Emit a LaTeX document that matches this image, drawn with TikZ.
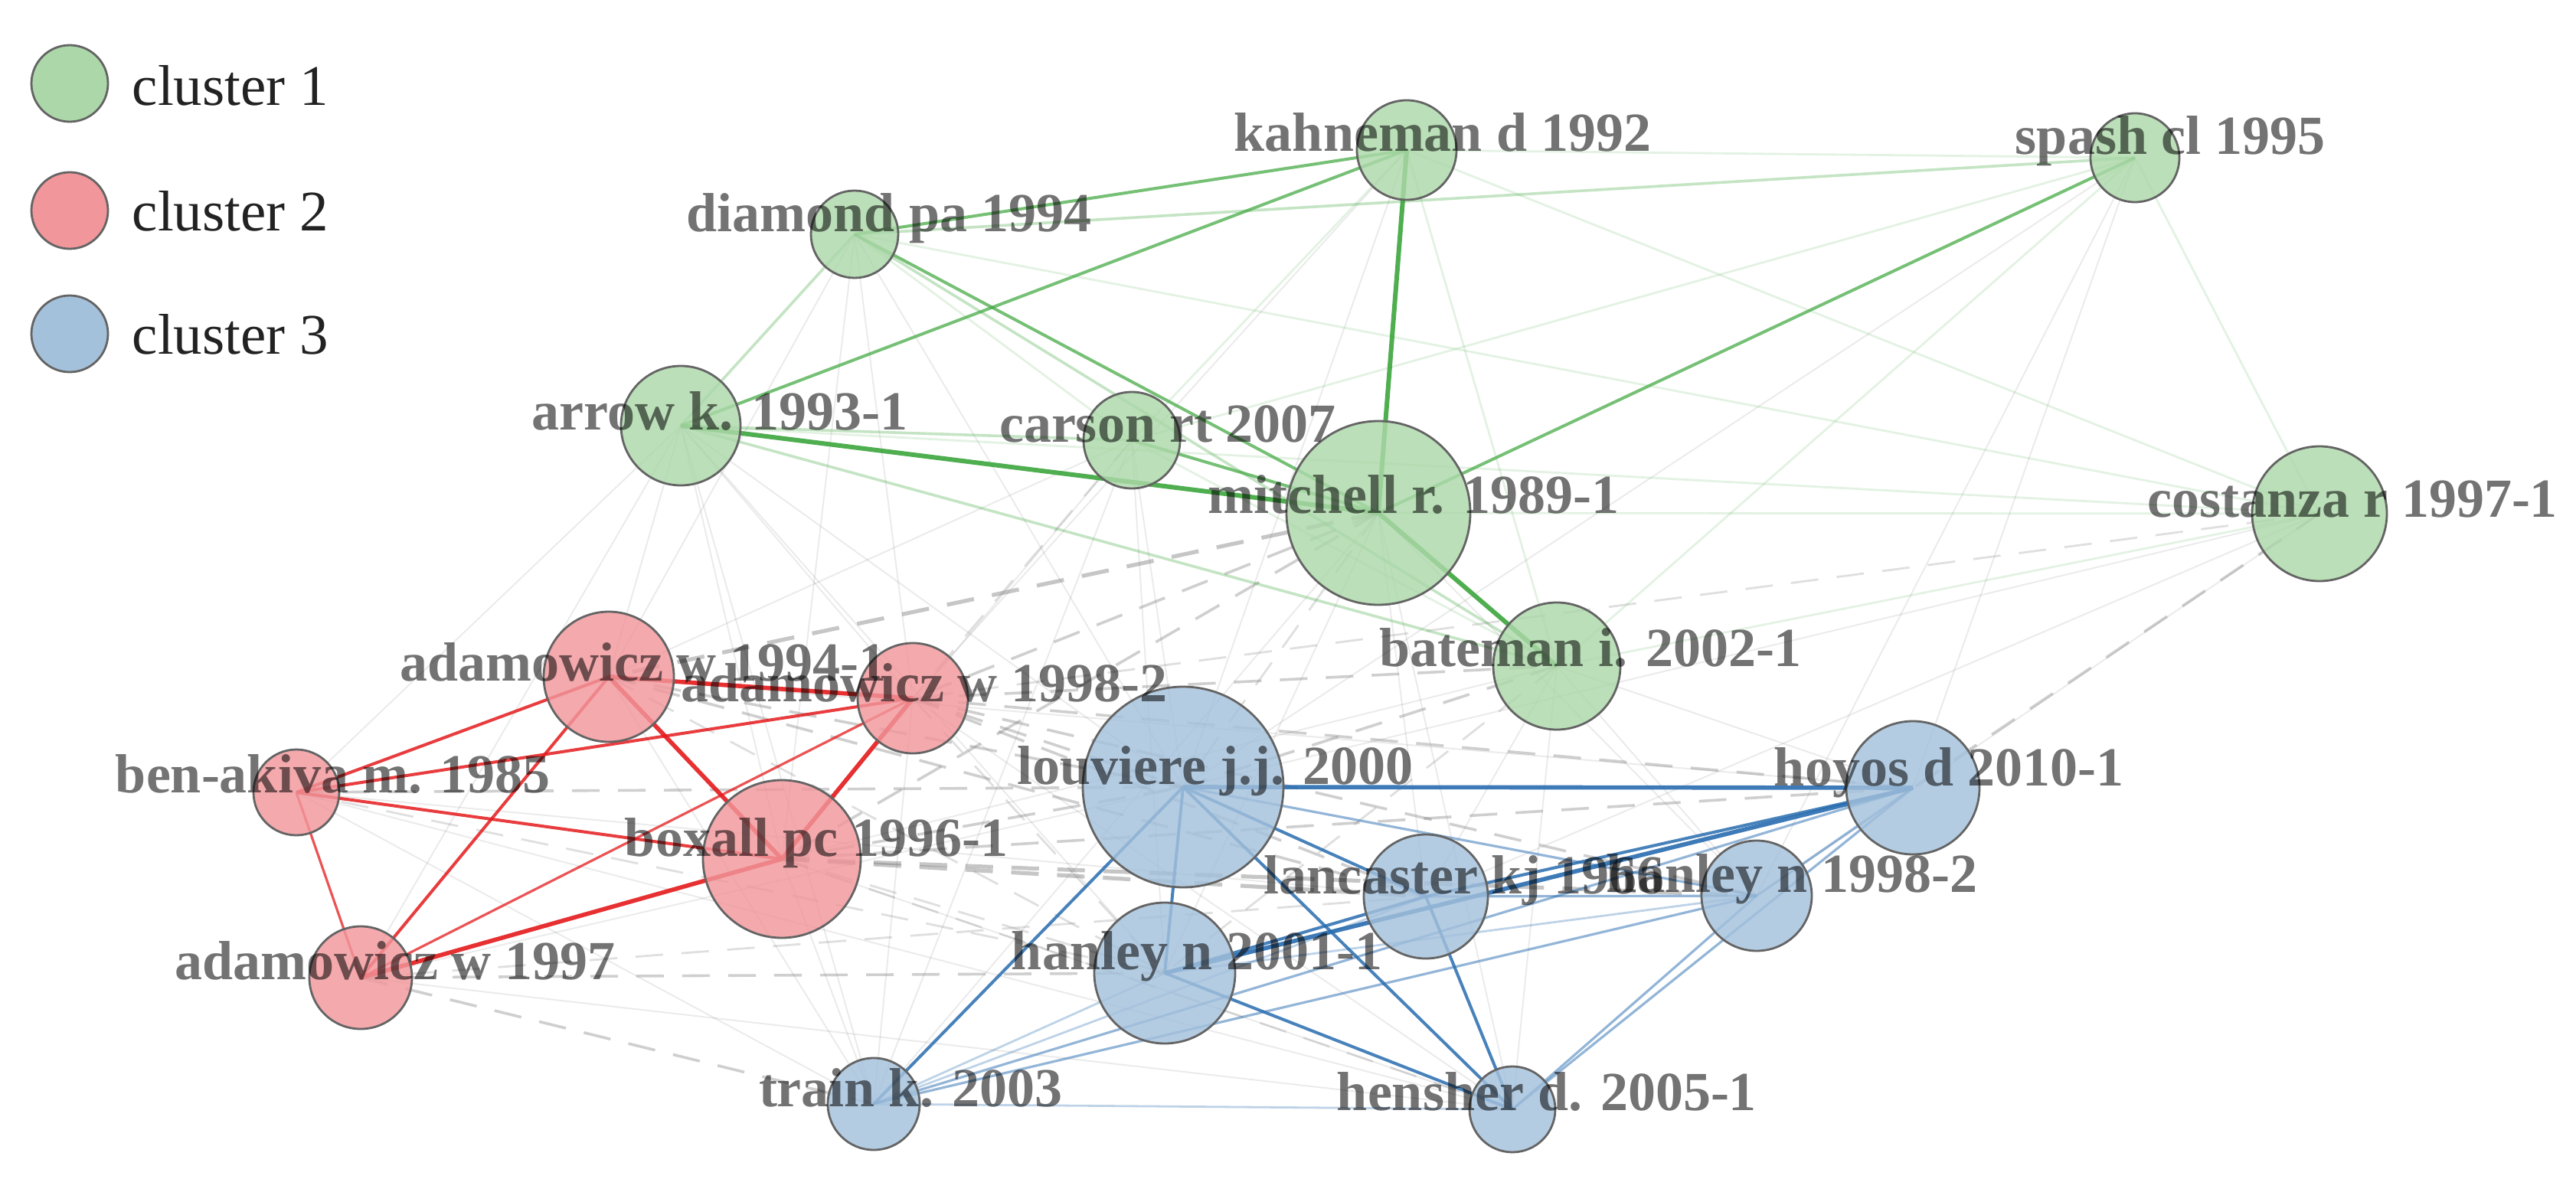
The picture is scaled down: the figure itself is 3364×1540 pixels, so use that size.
\documentclass[tikz,border=0pt]{standalone}
\usepackage{fontspec}
\setmainfont{Liberation Serif}
\pgfdeclarelayer{bg}
\pgfsetlayers{bg,main}
\definecolor{gfill}{RGB}{172,216,169}
\definecolor{rfill}{RGB}{241,150,155}
\definecolor{bfill}{RGB}{164,193,220}
\definecolor{gedge}{RGB}{60,165,60}
\definecolor{redge}{RGB}{228,26,28}
\definecolor{bedge}{RGB}{40,108,175}
\definecolor{nborder}{RGB}{100,100,100}
\definecolor{legtext}{RGB}{34,34,34}
\begin{document}
\begin{tikzpicture}[x=0.25pt,y=-0.25pt,
  nd/.style={circle, draw=nborder, line width=0.7pt, inner sep=0pt, fill opacity=0.82},
  c1/.style={nd, fill=gfill},
  c2/.style={nd, fill=rfill},
  c3/.style={nd, fill=bfill},
  lbl/.style={anchor=base, inner sep=0pt, font=\fontsize{18}{18}\selectfont\bfseries, text=black, text opacity=0.55},
  legtxt/.style={anchor=base west, inner sep=0pt, font=\fontsize{18.75}{19}\selectfont, text=legtext},
  gA/.style={draw=gedge, line width=1.5pt, opacity=0.9},
  gB/.style={draw=gedge, line width=1.0pt, opacity=0.7},
  gC/.style={draw=gedge, line width=0.9pt, opacity=0.3},
  gD/.style={draw=gedge, line width=0.7pt, opacity=0.14},
  rA/.style={draw=redge, line width=1.4pt, opacity=0.9},
  rB/.style={draw=redge, line width=1.0pt, opacity=0.85},
  rC/.style={draw=redge, line width=0.8pt, opacity=0.75},
  bA/.style={draw=bedge, line width=1.4pt, opacity=0.9},
  bB/.style={draw=bedge, line width=1.0pt, opacity=0.85},
  bC/.style={draw=bedge, line width=0.8pt, opacity=0.5},
  bD/.style={draw=bedge, line width=0.7pt, opacity=0.3},
  dshH/.style={draw=gray, dash pattern=on 9pt off 6pt, line width=1.3pt, opacity=0.45},
  dsh/.style={draw=gray, dash pattern=on 9pt off 6pt, line width=0.9pt, opacity=0.38},
  dshl/.style={draw=gray, dash pattern=on 9pt off 6pt, line width=0.7pt, opacity=0.25},
  thn/.style={draw=gray, line width=0.5pt, opacity=0.16}
]
\useasboundingbox (0,0) rectangle (3364,1540);

% ---- cluster 1 nodes
\node[c1, minimum size=32.5pt] (kah) at (1837,196) {};
\node[c1, minimum size=28.5pt] (dia) at (1116,306) {};
\node[c1, minimum size=29pt]   (spa) at (2788,206) {};
\node[c1, minimum size=39pt]   (arr) at (889,556) {};
\node[c1, minimum size=31.5pt] (car) at (1478,575) {};
\node[c1, minimum size=60pt]   (mit) at (1800,670) {};
\node[c1, minimum size=44pt]   (cos) at (3029,671) {};
\node[c1, minimum size=41.5pt] (bat) at (2033,870) {};
% ---- cluster 2 nodes
\node[c2, minimum size=42.5pt] (a94) at (795,884) {};
\node[c2, minimum size=36pt]   (a98) at (1192,912) {};
\node[c2, minimum size=28pt]   (ben) at (387,1035) {};
\node[c2, minimum size=51.5pt] (box) at (1021,1122) {};
\node[c2, minimum size=33.5pt] (a97) at (471,1277) {};
% ---- cluster 3 nodes
\node[c3, minimum size=65.5pt] (lou) at (1545,1028) {};
\node[c3, minimum size=43.5pt] (hoy) at (2498,1029) {};
\node[c3, minimum size=40.5pt] (lan) at (1862,1171) {};
\node[c3, minimum size=36pt]   (h98) at (2294,1170) {};
\node[c3, minimum size=46pt]   (h01) at (1521,1271) {};
\node[c3, minimum size=30pt]   (tra) at (1141,1442) {};
\node[c3, minimum size=28pt]   (hen) at (1975,1449) {};

\begin{pgfonlayer}{bg}
% faint grey links
\foreach \a/\b in {arr/a94, arr/ben, arr/box, arr/a97, arr/lou, arr/h01, arr/tra, arr/a98,
  dia/a94, dia/a98, dia/lou, dia/box, car/box, car/lou, car/h01, car/tra, car/a94,
  kah/lou, kah/a98, mit/h01, mit/hen, mit/lan, mit/tra, mit/h98,
  bat/hen, bat/lan, bat/h98, bat/hoy, bat/box, spa/lou, spa/hoy, spa/h98,
  cos/lan, cos/lou, cos/h98, a94/tra, ben/tra, a97/hen, a98/hen,
  box/tra, box/hen, a94/hoy, ben/lan, a98/tra, ben/hen, a97/lou}
  \draw[thn] (\a.center) -- (\b.center);
\foreach \a/\b in {a94/h01, car/a98, bat/h01, cos/a98, ben/h01, a97/lan, box/hen, mit/lou, box/h01, a98/h01}
  \draw[dshl] (\a.center) -- (\b.center);
\foreach \a/\b in {ben/lou, a97/h01, a97/tra, box/lou, a98/lou, a94/lou, a94/lan,
  bat/lou, a98/hoy, a98/bat, box/hoy, mit/box, cos/hoy, a98/lan, a98/h98, mit/a98}
  \draw[dsh] (\a.center) -- (\b.center);
\foreach \a/\b in {mit/a94, box/lan, box/h98}
  \draw[dshH] (\a.center) -- (\b.center);
% cluster 1 links
\foreach \a/\b in {kah/spa, kah/cos, dia/cos, arr/cos, mit/cos, cos/bat, spa/cos, spa/bat, car/spa, kah/bat, kah/car, dia/car, car/bat}
  \draw[gD] (\a.center) -- (\b.center);
\foreach \a/\b in {arr/car, arr/bat, dia/arr, dia/spa, dia/bat}
  \draw[gC] (\a.center) -- (\b.center);
\foreach \a/\b in {kah/dia, kah/arr, dia/mit, car/mit, mit/spa}
  \draw[gB] (\a.center) -- (\b.center);
\foreach \a/\b in {arr/mit, kah/mit, mit/bat}
  \draw[gA] (\a.center) -- (\b.center);
% cluster 2 links
\foreach \a/\b in {ben/a97, a98/a97}
  \draw[rC] (\a.center) -- (\b.center);
\foreach \a/\b in {a94/ben, a98/ben, ben/box, a94/a97}
  \draw[rB] (\a.center) -- (\b.center);
\foreach \a/\b in {a94/a98, a94/box, a98/box, box/a97}
  \draw[rA] (\a.center) -- (\b.center);
% cluster 3 links
\foreach \a/\b in {tra/hen, tra/lan, h01/h98, tra/h01}
  \draw[bD] (\a.center) -- (\b.center);
\foreach \a/\b in {tra/hoy, tra/h98, lou/h98, h98/hen, hoy/hen, hoy/h98, lan/h98}
  \draw[bC] (\a.center) -- (\b.center);
\foreach \a/\b in {lou/h01, lou/tra, lou/lan, lou/hen, lan/hen, h01/hen, h01/lan, hoy/lan}
  \draw[bB] (\a.center) -- (\b.center);
\foreach \a/\b in {lou/hoy, hoy/h01}
  \draw[bA] (\a.center) -- (\b.center);
\end{pgfonlayer}

% ---- labels
\node[lbl] (kahL) at (1884,198)  {kahneman d 1992};
\node[lbl] (diaL) at (1161,303)  {diamond pa 1994};
\node[lbl] (spaL) at (2834,202)  {spash cl 1995};
\node[lbl] (arrL) at (940,562)   {arrow k. 1993-1};
\node[lbl] (carL) at (1525,578)  {carson rt 2007};
\node[lbl] (mitL) at (1846,671)  {mitchell r. 1989-1};
\node[lbl] (cosL) at (3072,676)  {costanza r 1997-1};
\node[lbl] (batL) at (2077,870)  {bateman i. 2002-1};
\node[lbl] (a94L) at (840,889)   {adamowicz w 1994-1};
\node[lbl] (a98L) at (1207,916)  {adamowicz w 1998-2};
\node[lbl] (benL) at (435,1035)  {ben-akiva m. 1985};
\node[lbl] (boxL) at (1066,1118) {boxall pc 1996-1};
\node[lbl] (a97L) at (516,1279)  {adamowicz w 1997};
\node[lbl] (louL) at (1587,1024) {louviere j.j. 2000};
\node[lbl] (hoyL) at (2545,1026) {hoyos d 2010-1};
\node[lbl] (lanL) at (1912,1167) {lancaster kj 1966};
\node[lbl] (h98L) at (2340,1165) {hanley n 1998-2};
\node[lbl] (h01L) at (1563,1266) {hanley n 2001-1};
\node[lbl] (traL) at (1189,1445) {train k. 2003};
\node[lbl] (henL) at (2020,1450) {hensher d. 2005-1};

% ---- legend
\node[c1, fill opacity=1, minimum size=25pt] (lg1) at (91,109) {};
\node[c2, fill opacity=1, minimum size=25pt] (lg2) at (91,275) {};
\node[c3, fill opacity=1, minimum size=25pt] (lg3) at (91,436) {};
\node[legtxt] (lt1) at (172,138) {cluster 1};
\node[legtxt] (lt2) at (172,302) {cluster 2};
\node[legtxt] (lt3) at (172,463) {cluster 3};
\end{tikzpicture}
\end{document}
